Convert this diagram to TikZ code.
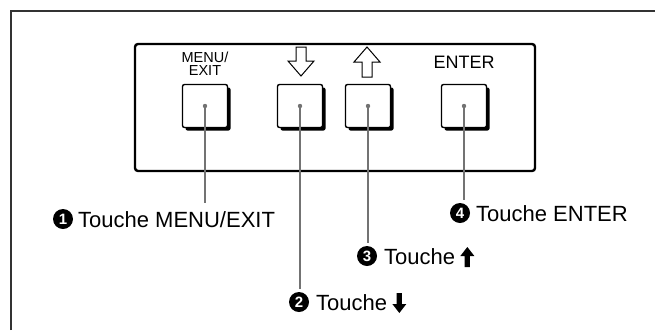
\documentclass[tikz,border=0pt]{standalone}
\usepackage{fontspec}
\setmainfont{Liberation Sans}
\usetikzlibrary{shadows}
\begin{document}
\begin{tikzpicture}[x=1pt,y=-1pt,
  frameline/.style={line width=1.8pt, black!80},
  panel/.style={draw, line width=2.4pt, rounded corners=3pt, minimum width=400pt, minimum height=127pt, inner sep=0pt},
  btn/.style={draw, line width=1.4pt, rounded corners=2pt, fill=white, minimum width=45pt, minimum height=43pt, inner sep=0pt,
    drop shadow={shadow xshift=3pt, shadow yshift=-3pt, fill=black, opacity=1}},
  leader/.style={draw=black!55, line width=2pt},
  lab/.style={font=\fontsize{22}{26}\selectfont, inner xsep=0pt, inner ysep=0pt, anchor=base west},
  bul/.style={circle, fill=black, text=white, font=\bfseries\fontsize{15}{15}\selectfont, minimum size=20pt, inner sep=0pt, outer sep=3pt},
  hollowarrow/.style={draw, line width=1pt, fill=white},
  solidarrow/.style={fill=black}
]
\useasboundingbox (0,0) rectangle (655,330);
% outer frame (top and left only)
\draw[frameline] (11,330) -- (11,11) -- (655,11);
% panel
\node[panel] (panel) at (335,107.5) {};
% buttons
\node[btn] (k1) at (205,106) {};
\node[btn] (k2) at (300,106) {};
\node[btn] (k3) at (368,106) {};
\node[btn] (k4) at (464,106) {};
% panel texts
\node[font=\fontsize{14.5}{13.5}\selectfont, align=center, inner sep=0pt] (tmenu) at (205,63.5) {MENU/\\EXIT};
\node[font=\fontsize{18}{18}\selectfont, inner sep=0pt] (tenter) at (464,62) {ENTER};
% hollow arrows above the buttons
\draw[hollowarrow] (296,47) -- (306,47) -- (306,61) -- (314,61) -- (301,76) -- (288,61) -- (296,61) -- cycle;
\draw[hollowarrow] (362,77) -- (372,77) -- (372,62) -- (380,62) -- (367,47) -- (354,62) -- (362,62) -- cycle;
% labels
\node[lab] (l1) at (78,227) {Touche MENU/EXIT};
\node[bul] (n1) at (63,219) {1};
\node[lab] (l2) at (316,310) {Touche};
\node[bul] (n2) at (299,302) {2};
\node[lab] (l3) at (384,264) {Touche};
\node[bul] (n3) at (367,256) {3};
\node[lab] (l4) at (476,221) {Touche ENTER};
\node[bul] (n4) at (460,213) {4};
% solid arrows after "Touche"
\fill[solidarrow, shift={([xshift=12pt,yshift=7pt]l2.base east)}]
  (-2.6,-10) -- (2.6,-10) -- (2.6,1) -- (7,1) -- (0,10) -- (-7,1) -- (-2.6,1) -- cycle;
\fill[solidarrow, shift={([xshift=12pt,yshift=7pt]l3.base east)}]
  (-2.6,10) -- (2.6,10) -- (2.6,-1) -- (7,-1) -- (0,-10) -- (-7,-1) -- (-2.6,-1) -- cycle;
% leader lines
\draw[leader, shorten >=8pt] (k1.center) -- (k1.center |- l1.north);
\draw[leader] (k2.center) -- (k2.center |- n2.north);
\draw[leader] (k3.center) -- (k3.center |- n3.north);
\draw[leader] (k4.center) -- (k4.center |- n4.north);
% centre dots
\foreach \k in {k1,k2,k3,k4} \fill[black!55] (\k.center) circle (2.2);
\end{tikzpicture}
\end{document}
